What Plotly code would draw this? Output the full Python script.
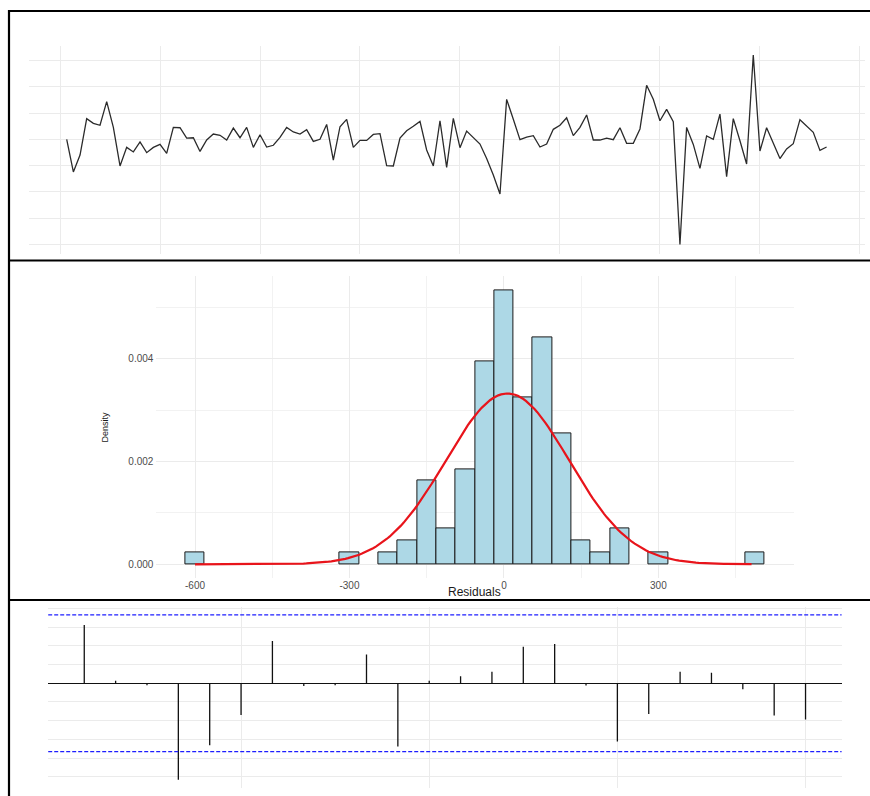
import numpy as np
import plotly.graph_objects as go

# ---------------- data ----------------
residuals = [0, -186, -90, 118, 91, 80, 215, 68, -152, -46,
             -72, -15, -76, -46, -29, -80, 68, 66, 7, 9,
             -69, -4, 30, 23, -4, 64, 9, 68, -46, 26,
             -44, -34, 11, 68, 42, 30, 55, -12, 0, 85,
             -118, 72, 114, -46, -6, -6, 28, 32, -150, -152,
             7, 49, 74, 102, -61, -152, 106, -160, 120, -48,
             47, 11, -27, -109, -204, -312, 228, 114, -2, 13,
             21, -44, -27, 57, 80, 123, 21, 68, 139, -4,
             -4, 7, -2, 66, -23, -23, 59, 308, 228, 106,
             171, 101, -600, 68, -29, -166, 19, 0, 144, -213,
             118, -8, -141, 481, -67, 66, -18, -110, -55, -25,
             112, 76, 40, -63, -44]
time_index = list(range(1, len(residuals) + 1))

acf_lags = list(range(1, 25))
acf_values = [0.156, 0.007, -0.005, -0.258, -0.166, -0.085, 0.113, -0.007,
              -0.005, 0.077, -0.169, 0.007, 0.019, 0.031, 0.098, 0.105,
              -0.006, -0.156, -0.082, 0.031, 0.028, -0.016, -0.086, -0.097]

hist_start = -618.75
hist_binwidth = 37.5
hist_nbins = 30

x_ticks_hist = [-600, -300, 0, 300]
y_ticks_hist = [0.000, 0.002, 0.004]

# ---------------- helpers ----------------
W, H = 870, 796
def px_x(p):
    return p / W
def px_y(p):
    return 1 - p / H
def expand(lo, hi, f=0.05):
    d = (hi - lo) * f
    return [lo - d, hi + d]

res = np.array(residuals, dtype=float)
n = len(res)

GRID = "#EBEBEB"
GRID_MINOR = "#F2F2F2"
TICKC = "#4D4D4D"
FONT = "Liberation Sans"

fig = go.Figure()

# ---------------- panel 1: residual time series ----------------
fig.add_trace(go.Scatter(x=time_index, y=residuals, mode="lines",
                         line=dict(color="#2b2b2b", width=1.3),
                         xaxis="x", yaxis="y", hoverinfo="skip"))

# ---------------- panel 2: histogram + normal curve ----------------
edges = hist_start + hist_binwidth * np.arange(hist_nbins + 1)
counts, _ = np.histogram(res, bins=edges)
dens_max = counts.max() / (n * hist_binwidth)

fig.add_trace(go.Histogram(x=residuals, histnorm="probability density",
                           xbins=dict(start=hist_start, end=edges[-1], size=hist_binwidth),
                           marker=dict(color="#ADD8E6", line=dict(color="#1a1a1a", width=1)),
                           xaxis="x2", yaxis="y2", hoverinfo="skip"))

mu = res.mean()
sd = res.std(ddof=1)
xc = np.linspace(res.min(), res.max(), 201)
yc = np.exp(-0.5 * ((xc - mu) / sd) ** 2) / (sd * np.sqrt(2 * np.pi))
fig.add_trace(go.Scatter(x=xc, y=yc, mode="lines",
                         line=dict(color="#E8141B", width=2.2),
                         xaxis="x2", yaxis="y2", hoverinfo="skip"))

# ---------------- panel 3: ACF ----------------
seg_x, seg_y = [], []
for lag, v in zip(acf_lags, acf_values):
    seg_x += [lag, lag, None]
    seg_y += [0, v, None]
fig.add_trace(go.Scatter(x=seg_x, y=seg_y, mode="lines",
                         line=dict(color="#111111", width=1.3),
                         xaxis="x3", yaxis="y3", hoverinfo="skip"))

ci = 1.96 / np.sqrt(n)

# ---------------- layout ----------------
axis_common = dict(showline=False, zeroline=False, ticks="", showgrid=True,
                   gridcolor=GRID, gridwidth=1, fixedrange=True)

fig.update_layout(
    width=W, height=H, margin=dict(l=0, r=0, t=0, b=0),
    paper_bgcolor="white", plot_bgcolor="white", showlegend=False,
    font=dict(family=FONT, color=TICKC),
    bargap=0,
    xaxis=dict(axis_common, domain=[px_x(28.7), px_x(864.6)],
               range=expand(1, n), tickmode="linear", tick0=0, dtick=15,
               showticklabels=False, anchor="y"),
    yaxis=dict(axis_common, domain=[px_y(254), px_y(45.5)],
               range=expand(res.min(), res.max()), tickmode="linear", tick0=0, dtick=150,
               showticklabels=False, anchor="x"),
    xaxis2=dict(axis_common, domain=[px_x(156.4), px_x(793.5)],
                range=expand(edges[0], edges[-1]),
                tickmode="array", tickvals=x_ticks_hist,
                ticktext=[str(v) for v in x_ticks_hist],
                minor=dict(tickvals=[-450, -150, 150, 450], showgrid=True,
                           gridcolor=GRID_MINOR, gridwidth=0.7),
                showticklabels=True, tickfont=dict(size=10, color=TICKC),
                anchor="y2"),
    yaxis2=dict(axis_common, domain=[px_y(578), px_y(276.4)],
                range=expand(0, dens_max),
                tickmode="array", tickvals=y_ticks_hist,
                ticktext=["%.3f" % v for v in y_ticks_hist],
                minor=dict(tickvals=[0.001, 0.003, 0.005], showgrid=True,
                           gridcolor=GRID_MINOR, gridwidth=0.7),
                showticklabels=True, tickfont=dict(size=10, color=TICKC),
                ticklabelstandoff=2, anchor="x2"),
    xaxis3=dict(axis_common, domain=[px_x(48.2), px_x(841.6)],
                range=expand(acf_lags[0], acf_lags[-1]),
                tickmode="array", tickvals=[6, 12, 18, 24],
                showticklabels=False, anchor="y3"),
    yaxis3=dict(axis_common, domain=[px_y(788), px_y(606.7)],
                range=expand(min(min(acf_values), -ci), max(max(acf_values), ci)),
                tickmode="linear", tick0=0, dtick=0.05,
                zeroline=True, zerolinecolor="#111111", zerolinewidth=1.4,
                showticklabels=False, anchor="x3"),
)

shapes = []
for yy in (ci, -ci):
    shapes.append(dict(type="line", xref="x3 domain", yref="y3", x0=0, x1=1,
                       y0=yy, y1=yy, line=dict(color="#1E1EFF", width=1.3, dash="4px,2px")))
# panel borders
for yy in (11, 260.5, 600):
    shapes.append(dict(type="line", xref="paper", yref="paper",
                       x0=px_x(8), x1=1, y0=px_y(yy), y1=px_y(yy),
                       line=dict(color="black", width=2.2)))
shapes.append(dict(type="line", xref="paper", yref="paper",
                   x0=px_x(9), x1=px_x(9), y0=px_y(10), y1=0,
                   line=dict(color="black", width=2.2)))
fig.update_layout(shapes=shapes)

fig.add_annotation(text="Residuals", xref="paper", yref="paper",
                   x=px_x(474.5), y=px_y(592.3), xanchor="center", yanchor="middle",
                   showarrow=False, font=dict(size=12, color="#1a1a1a", family=FONT))
fig.add_annotation(text="Density", xref="paper", yref="paper",
                   x=px_x(104.5), y=px_y(427), xanchor="center", yanchor="middle",
                   textangle=-90, showarrow=False,
                   font=dict(size=9, color="#1a1a1a", family=FONT))

fig.write_html("out.html")
